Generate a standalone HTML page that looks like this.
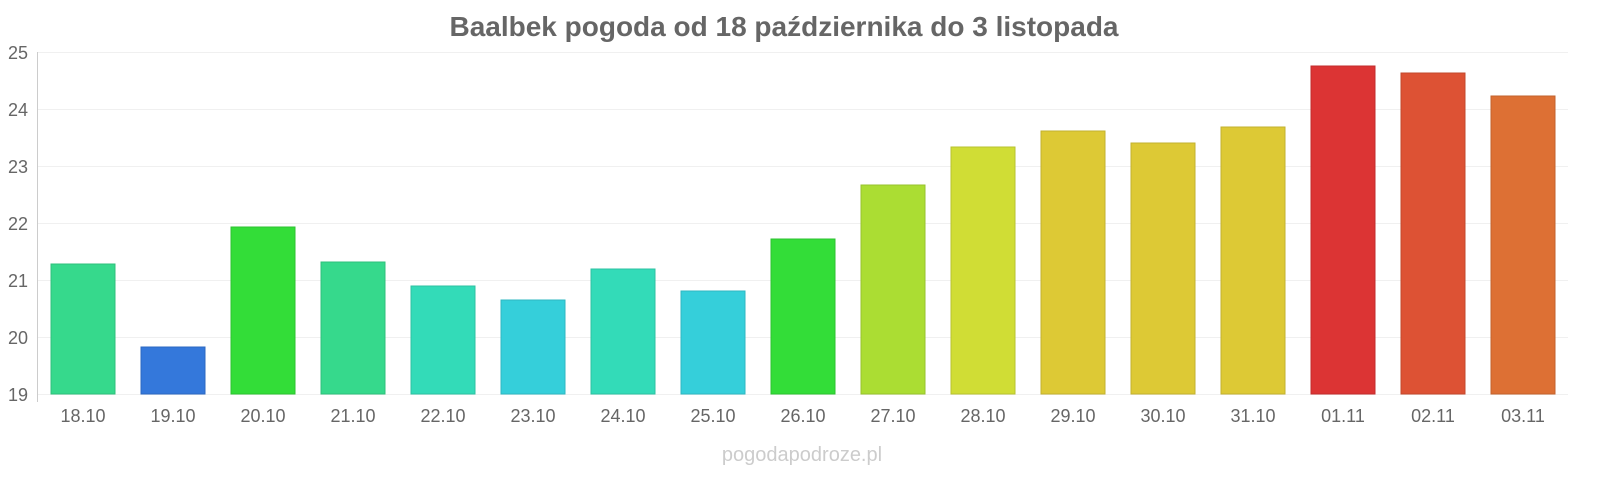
<!DOCTYPE html>
<html><head><meta charset="utf-8"><style>
body{margin:0;background:#fff;}
svg{display:block;font-family:"Liberation Sans",sans-serif;}
</style></head><body>
<svg width="1600" height="480" viewBox="0 0 1600 480">
<text x="784" y="36" text-anchor="middle" font-size="28" font-weight="bold" fill="#666">Baalbek pogoda od 18 października do 3 listopada</text>
<g stroke="#f0f0f0" stroke-width="1">
<line x1="38" x2="1568" y1="52.5" y2="52.5"/><line x1="38" x2="1568" y1="109.5" y2="109.5"/>
<line x1="38" x2="1568" y1="166.5" y2="166.5"/><line x1="38" x2="1568" y1="223.5" y2="223.5"/>
<line x1="38" x2="1568" y1="280.5" y2="280.5"/><line x1="38" x2="1568" y1="337.5" y2="337.5"/>
<line x1="38" x2="1568" y1="394.5" y2="394.5"/>
</g>
<line x1="37.5" x2="37.5" y1="52" y2="402" stroke="#ccc"/>
<g font-size="18" fill="#666" text-anchor="end">
<text x="28" y="59">25</text><text x="28" y="116">24</text><text x="28" y="173">23</text>
<text x="28" y="230">22</text><text x="28" y="287">21</text><text x="28" y="344">20</text><text x="28" y="401">19</text>
</g>
<g stroke-width="1">
<rect x="51" y="264" width="64" height="130" fill="#36d98c" stroke="#2fc07b"/>
<rect x="141" y="347" width="64" height="47" fill="#3478db" stroke="#2d68c0"/>
<rect x="231" y="227" width="64" height="167" fill="#33dd38" stroke="#2cc231"/>
<rect x="321" y="262" width="64" height="132" fill="#36d98c" stroke="#2fc07b"/>
<rect x="411" y="286" width="64" height="108" fill="#33dbb8" stroke="#2dc2a2"/>
<rect x="501" y="300" width="64" height="94" fill="#35cfda" stroke="#2eb7c1"/>
<rect x="591" y="269" width="64" height="125" fill="#33dbb8" stroke="#2dc2a2"/>
<rect x="681" y="291" width="64" height="103" fill="#35cfda" stroke="#2eb7c1"/>
<rect x="771" y="239" width="64" height="155" fill="#33dd38" stroke="#2cc231"/>
<rect x="861" y="185" width="64" height="209" fill="#abdd33" stroke="#97c22d"/>
<rect x="951" y="147" width="64" height="247" fill="#d0dd35" stroke="#b7c22f"/>
<rect x="1041" y="131" width="64" height="263" fill="#ddc935" stroke="#c2b12f"/>
<rect x="1131" y="143" width="64" height="251" fill="#ddc935" stroke="#c2b12f"/>
<rect x="1221" y="127" width="64" height="267" fill="#ddc935" stroke="#c2b12f"/>
<rect x="1311" y="66" width="64" height="328" fill="#dc3434" stroke="#c22d2d"/>
<rect x="1401" y="73" width="64" height="321" fill="#dd5234" stroke="#c2482d"/>
<rect x="1491" y="96" width="64" height="298" fill="#dd7034" stroke="#c2622d"/>
</g>
<g font-size="18" fill="#666" text-anchor="middle">
<text x="83" y="422">18.10</text><text x="173" y="422">19.10</text><text x="263" y="422">20.10</text>
<text x="353" y="422">21.10</text><text x="443" y="422">22.10</text><text x="533" y="422">23.10</text>
<text x="623" y="422">24.10</text><text x="713" y="422">25.10</text><text x="803" y="422">26.10</text>
<text x="893" y="422">27.10</text><text x="983" y="422">28.10</text><text x="1073" y="422">29.10</text>
<text x="1163" y="422">30.10</text><text x="1253" y="422">31.10</text><text x="1343" y="422">01.11</text>
<text x="1433" y="422">02.11</text><text x="1523" y="422">03.11</text>
</g>
<text x="802" y="461" text-anchor="middle" font-size="20" fill="#ccc">pogodapodroze.pl</text>
</svg>
</body></html>
